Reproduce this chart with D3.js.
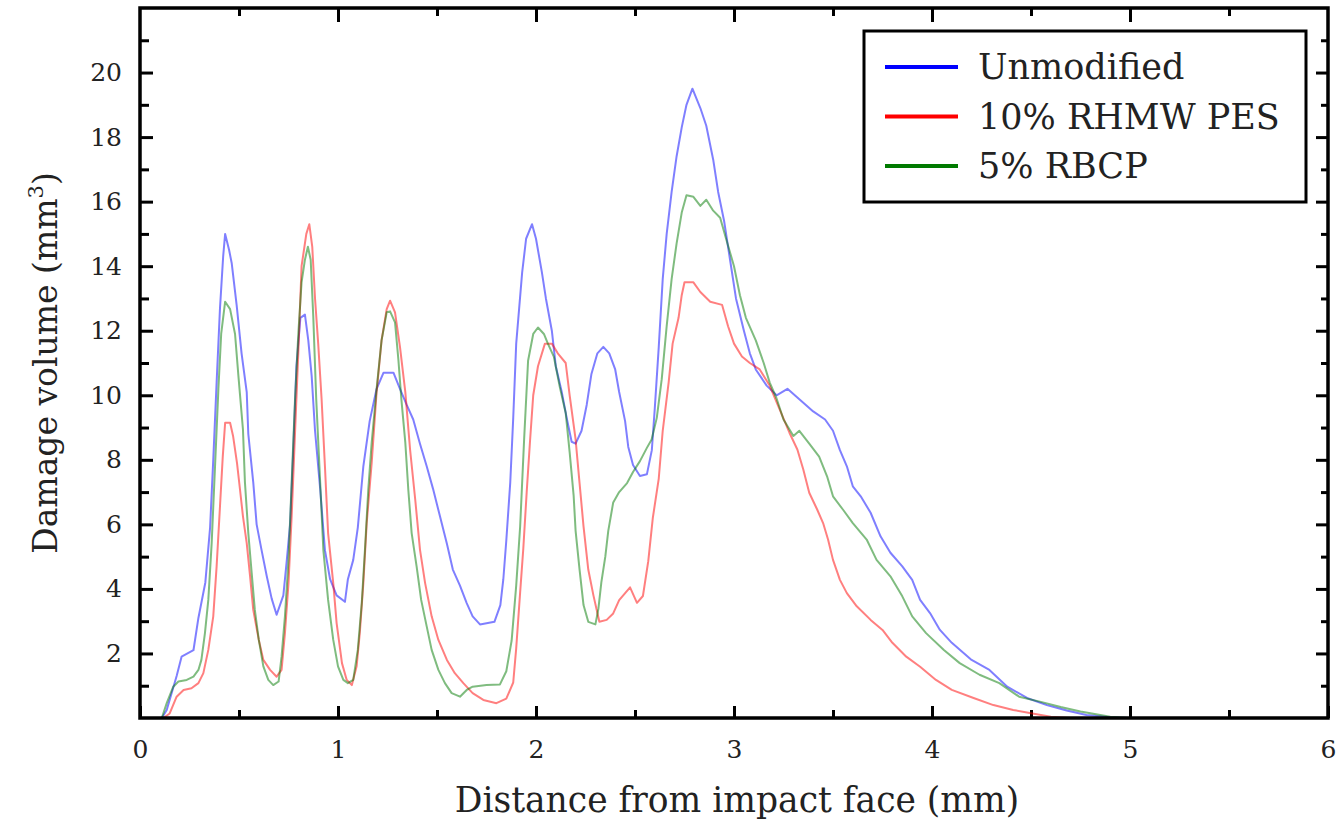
<!DOCTYPE html>
<html>
<head>
<meta charset="utf-8">
<script src="https://cdn.jsdelivr.net/npm/d3@7"></script>
<style>
  body { margin: 0; background: #fff; }
  text { font-family: "DejaVu Serif", "Liberation Serif", serif; fill: #222; }
</style>
</head>
<body>
<div id="chart"></div>
<script>
// values: [distance mm, damage volume mm^3]
var unmodified = [[0.03,0],[0.11,0],[0.135,0.25],[0.185,1.3],[0.21,1.9],[0.27,2.1],[0.295,3.1],[0.33,4.2],[0.354,5.9],[0.37,8.0],[0.387,10.4],[0.404,12.7],[0.42,14.3],[0.43,15.0],[0.45,14.5],[0.463,14.1],[0.488,12.8],[0.513,11.3],[0.539,10.1],[0.547,8.8],[0.572,7.3],[0.589,6.0],[0.614,5.2],[0.64,4.4],[0.665,3.7],[0.69,3.2],[0.724,3.8],[0.74,4.8],[0.758,6.0],[0.774,8.3],[0.79,10.9],[0.81,12.4],[0.833,12.5],[0.85,11.7],[0.867,10.6],[0.884,8.9],[0.91,7.1],[0.934,5.2],[0.96,4.3],[0.993,3.8],[1.035,3.6],[1.05,4.3],[1.077,4.9],[1.1,5.9],[1.128,7.8],[1.16,9.2],[1.195,10.2],[1.23,10.7],[1.28,10.7],[1.313,10.2],[1.347,9.7],[1.38,9.25],[1.414,8.5],[1.448,7.8],[1.48,7.1],[1.515,6.25],[1.55,5.4],[1.58,4.6],[1.616,4.1],[1.65,3.56],[1.68,3.15],[1.717,2.9],[1.79,2.98],[1.82,3.5],[1.835,4.3],[1.85,5.5],[1.87,7.3],[1.885,9.3],[1.9,11.6],[1.93,13.8],[1.95,14.85],[1.98,15.3],[2.0,14.85],[2.03,13.8],[2.05,13.0],[2.08,12.0],[2.1,10.9],[2.13,10.1],[2.155,9.3],[2.18,8.56],[2.2,8.5],[2.23,8.9],[2.256,9.7],[2.28,10.66],[2.31,11.3],[2.34,11.5],[2.37,11.3],[2.4,10.8],[2.42,10.1],[2.45,9.2],[2.466,8.4],[2.49,7.84],[2.525,7.5],[2.56,7.55],[2.585,8.3],[2.6,9.6],[2.62,11.5],[2.64,13.6],[2.66,15.0],[2.685,16.3],[2.71,17.4],[2.736,18.3],[2.76,19.0],[2.79,19.5],[2.83,18.9],[2.86,18.35],[2.895,17.3],[2.92,16.3],[2.95,15.4],[2.98,14.2],[3.01,13.0],[3.05,12.0],[3.08,11.3],[3.11,10.8],[3.165,10.3],[3.215,10.0],[3.27,10.2],[3.33,9.88],[3.4,9.5],[3.46,9.25],[3.5,8.9],[3.535,8.3],[3.57,7.8],[3.6,7.18],[3.64,6.87],[3.69,6.36],[3.74,5.63],[3.79,5.12],[3.85,4.7],[3.9,4.28],[3.94,3.66],[3.99,3.25],[4.04,2.73],[4.1,2.33],[4.2,1.8],[4.29,1.49],[4.38,0.97],[4.48,0.62],[4.58,0.4],[4.68,0.23],[4.78,0.09],[4.9,0.02],[5.0,0]];

var rhmwPes = [[0.03,0],[0.118,0],[0.15,0.14],[0.185,0.66],[0.22,0.87],[0.26,0.92],[0.295,1.08],[0.32,1.39],[0.345,2.11],[0.37,3.15],[0.387,4.7],[0.404,6.56],[0.418,8.1],[0.43,9.15],[0.455,9.15],[0.47,8.74],[0.49,7.9],[0.505,7.08],[0.52,6.25],[0.539,5.42],[0.556,4.39],[0.572,3.35],[0.6,2.42],[0.623,1.8],[0.657,1.49],[0.69,1.28],[0.715,1.49],[0.732,2.63],[0.75,4.18],[0.766,6.25],[0.783,8.84],[0.8,11.4],[0.816,14.0],[0.84,15.0],[0.855,15.3],[0.87,14.6],[0.884,13.0],[0.9,11.6],[0.917,9.9],[0.934,7.8],[0.95,5.73],[0.976,4.18],[0.993,2.94],[1.02,1.7],[1.044,1.18],[1.07,1.02],[1.094,1.6],[1.11,2.63],[1.128,4.18],[1.145,6.04],[1.17,7.9],[1.195,10.1],[1.22,11.7],[1.246,12.67],[1.263,12.93],[1.288,12.57],[1.313,11.5],[1.34,10.1],[1.364,8.32],[1.39,6.77],[1.414,5.22],[1.44,4.18],[1.473,3.15],[1.507,2.42],[1.55,1.8],[1.59,1.39],[1.633,1.08],[1.68,0.77],[1.734,0.56],[1.8,0.46],[1.85,0.6],[1.885,1.1],[1.9,2.16],[1.92,3.9],[1.936,5.26],[1.953,7.0],[1.97,8.6],[1.986,10.0],[2.01,10.9],[2.045,11.6],[2.08,11.6],[2.11,11.3],[2.15,11.0],[2.17,10.0],[2.2,8.63],[2.22,7.28],[2.24,5.94],[2.264,4.6],[2.29,3.8],[2.32,2.98],[2.357,3.04],[2.39,3.24],[2.42,3.65],[2.475,4.05],[2.51,3.57],[2.54,3.78],[2.567,4.86],[2.59,6.2],[2.62,7.42],[2.64,8.9],[2.67,10.4],[2.69,11.6],[2.72,12.4],[2.736,13.1],[2.75,13.5],[2.795,13.5],[2.83,13.2],[2.88,12.9],[2.94,12.8],[2.97,12.14],[3.0,11.6],[3.04,11.2],[3.08,11.0],[3.13,10.8],[3.18,10.3],[3.23,9.57],[3.28,8.84],[3.32,8.32],[3.35,7.7],[3.38,6.98],[3.42,6.46],[3.45,6.04],[3.475,5.53],[3.5,4.9],[3.535,4.28],[3.57,3.87],[3.62,3.46],[3.69,3.04],[3.75,2.73],[3.8,2.33],[3.87,1.9],[3.94,1.59],[4.02,1.18],[4.1,0.87],[4.21,0.62],[4.31,0.4],[4.41,0.25],[4.5,0.15],[4.6,0.04],[4.7,0]];

var rbcp = [[0.03,0],[0.11,0],[0.135,0.46],[0.168,0.97],[0.194,1.13],[0.236,1.18],[0.27,1.28],[0.295,1.49],[0.31,1.8],[0.328,2.63],[0.345,3.66],[0.362,5.42],[0.379,7.8],[0.396,10.2],[0.41,11.9],[0.43,12.9],[0.455,12.67],[0.48,11.9],[0.497,10.6],[0.52,8.94],[0.53,7.3],[0.547,5.73],[0.564,4.5],[0.58,3.35],[0.6,2.42],[0.623,1.6],[0.648,1.18],[0.673,1.02],[0.7,1.13],[0.715,1.9],[0.732,3.15],[0.75,4.9],[0.766,7.3],[0.783,9.88],[0.8,11.95],[0.816,13.5],[0.833,14.2],[0.848,14.6],[0.862,14.2],[0.875,12.46],[0.89,9.88],[0.91,7.3],[0.926,5.2],[0.95,3.66],[0.976,2.42],[1.0,1.6],[1.027,1.18],[1.05,1.08],[1.077,1.18],[1.1,2.11],[1.12,3.56],[1.136,5.2],[1.153,7.08],[1.17,8.53],[1.195,10.2],[1.22,11.7],[1.246,12.57],[1.263,12.6],[1.288,12.26],[1.305,11.1],[1.32,9.88],[1.34,8.53],[1.355,7.08],[1.372,5.73],[1.397,4.7],[1.42,3.66],[1.448,2.84],[1.473,2.11],[1.507,1.49],[1.54,1.08],[1.574,0.77],[1.616,0.66],[1.65,0.87],[1.68,0.97],[1.75,1.02],[1.818,1.04],[1.85,1.45],[1.877,2.4],[1.9,4.1],[1.92,5.94],[1.94,8.63],[1.96,11.07],[1.986,11.9],[2.01,12.1],[2.04,11.9],[2.06,11.6],[2.09,11.2],[2.12,10.26],[2.15,9.45],[2.17,8.23],[2.19,6.9],[2.2,5.8],[2.22,4.6],[2.24,3.5],[2.264,2.98],[2.3,2.9],[2.315,3.38],[2.33,4.2],[2.35,5.0],[2.365,5.8],[2.39,6.68],[2.42,7.0],[2.46,7.28],[2.49,7.62],[2.525,7.96],[2.56,8.37],[2.584,8.63],[2.61,9.3],[2.635,10.5],[2.66,12.14],[2.685,13.6],[2.71,14.7],[2.736,15.66],[2.76,16.2],[2.795,16.15],[2.83,15.87],[2.86,16.06],[2.895,15.72],[2.93,15.5],[2.96,14.85],[3.0,14.0],[3.03,13.1],[3.06,12.4],[3.11,11.7],[3.15,11.0],[3.18,10.4],[3.215,9.9],[3.25,9.25],[3.3,8.74],[3.33,8.9],[3.38,8.5],[3.43,8.1],[3.47,7.49],[3.5,6.87],[3.55,6.46],[3.6,6.04],[3.67,5.53],[3.72,4.9],[3.79,4.39],[3.85,3.77],[3.9,3.15],[3.97,2.63],[4.06,2.11],[4.14,1.7],[4.24,1.34],[4.34,1.08],[4.44,0.66],[4.55,0.5],[4.65,0.34],[4.75,0.2],[4.9,0.04],[5.0,0]];

var seriesNames = ["Unmodified", "10% RHMW PES", "5% RBCP"];
var seriesColors = ["#0000ff", "#ff0000", "#007a00"];
var xTicks = [0, 1, 2, 3, 4, 5, 6];
var xMinorTicks = [0.5, 1.5, 2.5, 3.5, 4.5, 5.5];
var yTicks = [2, 4, 6, 8, 10, 12, 14, 16, 18, 20];
var yMinorTicks = [1, 3, 5, 7, 9, 11, 13, 15, 17, 19, 21];

var W = 1341, H = 820;
var margin = {top: 8, right: 13, bottom: 102, left: 140},
    width = W - margin.left - margin.right,
    height = H - margin.top - margin.bottom;

var svg = d3.select("#chart").append("svg")
    .attr("width", W)
    .attr("height", H)
  .append("g")
    .attr("transform", "translate(" + margin.left + "," + margin.top + ")");

var x = d3.scaleLinear().domain([0, 6]).range([0, width]);
var y = d3.scaleLinear().domain([0, 22]).range([height, 0]);

// ticks point inward on all four sides
function tickAxis(axis, vals, size, pad) {
  return axis.tickValues(vals).tickSize(-size).tickPadding(pad || 0)
    .tickFormat(pad ? d3.format("d") : "");
}

var axes = [
  {a: tickAxis(d3.axisBottom(x), xTicks, 12, 22), t: "translate(0," + height + ")"},
  {a: tickAxis(d3.axisBottom(x), xMinorTicks, 8), t: "translate(0," + height + ")"},
  {a: tickAxis(d3.axisTop(x), xTicks.slice(1, 6), 14), t: "translate(0,0)"},
  {a: tickAxis(d3.axisTop(x), xMinorTicks, 8), t: "translate(0,0)"},
  {a: tickAxis(d3.axisLeft(y), yTicks, 13, 18), t: "translate(0,0)"},
  {a: tickAxis(d3.axisLeft(y), yMinorTicks, 9), t: "translate(0,0)"},
  {a: tickAxis(d3.axisRight(y), yTicks, 12), t: "translate(" + width + ",0)"},
  {a: tickAxis(d3.axisRight(y), yMinorTicks, 7), t: "translate(" + width + ",0)"}
];

axes.forEach(function(ax) {
  var g = svg.append("g").attr("transform", ax.t).call(ax.a);
  g.select(".domain").remove();
  g.selectAll(".tick line").attr("stroke", "#000").attr("stroke-width", 3);
  g.selectAll(".tick text")
    .style("font-family", "DejaVu Serif")
    .style("font-size", "25px")
    .attr("fill", "#333");
});

var line = d3.line()
    .x(function(d) { return x(d[0]); })
    .y(function(d) { return y(d[1]); });

[unmodified, rhmwPes, rbcp].forEach(function(s, i) {
  svg.append("path")
    .datum(s)
    .attr("fill", "none")
    .attr("stroke", seriesColors[i])
    .attr("stroke-opacity", 0.5)
    .attr("stroke-width", 2)
    .attr("stroke-linejoin", "round")
    .attr("d", line);
});

// frame
svg.append("rect")
  .attr("x", 0).attr("y", 0)
  .attr("width", width).attr("height", height)
  .attr("fill", "none")
  .attr("stroke", "#000")
  .attr("stroke-width", 3.5);

// axis titles
svg.append("text")
  .attr("x", width / 2 + 3)
  .attr("y", height + 94)
  .attr("text-anchor", "middle")
  .style("font-size", "34.5px")
  .text("Distance from impact face (mm)");

var yl = svg.append("text")
  .attr("transform", "translate(" + (-83) + "," + (height / 2) + ") rotate(-90)")
  .attr("text-anchor", "middle")
  .style("font-size", "33px");
yl.append("tspan").text("Damage volume (mm");
yl.append("tspan").attr("dy", -14).style("font-size", "21px").text("3");
yl.append("tspan").attr("dy", 14).text(")");

// legend
var lg = svg.append("g").attr("transform", "translate(" + (864 - margin.left) + "," + (31 - margin.top) + ")");
lg.append("rect")
  .attr("width", 442).attr("height", 171)
  .attr("fill", "#fff")
  .attr("stroke", "#000")
  .attr("stroke-width", 3);

seriesNames.forEach(function(name, i) {
  var cy = 36 + i * 49.5;
  lg.append("line")
    .attr("x1", 21).attr("x2", 94)
    .attr("y1", cy).attr("y2", cy)
    .attr("stroke", seriesColors[i])
    .attr("stroke-width", 4);
  lg.append("text")
    .attr("x", 114)
    .attr("y", cy + 12)
    .style("font-size", "35px")
    .text(name);
});
</script>
</body>
</html>
